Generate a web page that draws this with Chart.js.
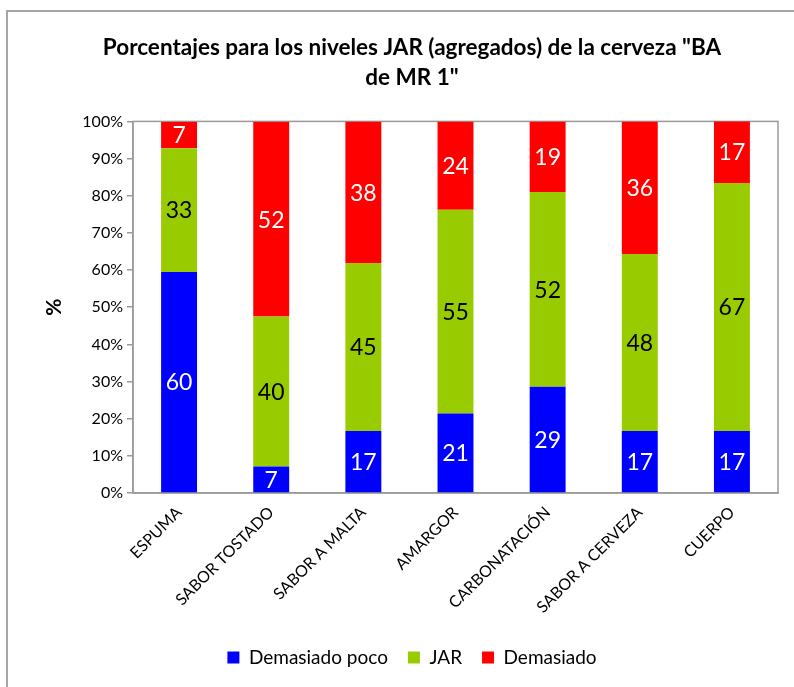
<!DOCTYPE html>
<html>
<head>
<meta charset="utf-8">
<script src="https://cdn.jsdelivr.net/npm/chart.js@4.4.1/dist/chart.umd.min.js"></script>
<style>
  html, body { margin: 0; padding: 0; background: #fff; }
  #wrap { position: relative; width: 794px; height: 687px; overflow: hidden; }
  #frame { position: absolute; left: 6px; top: 10px; width: 900px; height: 900px;
           border-left: 2px solid #a6a6a6; border-top: 2px solid #a6a6a6; }
  canvas { position: absolute; left: 0; top: 0; }
</style>
</head>
<body>
<div id="wrap">
  <div id="frame"></div>
  <canvas id="chart" width="794" height="687"></canvas>
</div>
<script>
// Porcentajes (labels show rounded values)
const categories = ['ESPUMA', 'SABOR TOSTADO', 'SABOR A MALTA', 'AMARGOR', 'CARBONATACIÓN', 'SABOR A CERVEZA', 'CUERPO'];
const pocoValues = [59.5, 7.1, 16.7, 21.4, 28.6, 16.7, 16.7];
const jarValues  = [33.3, 40.4, 45.2, 54.8, 52.4, 47.6, 66.7];
const muchoValues = [7.1, 52.4, 38.1, 23.8, 19.0, 35.7, 16.7];
const yTicks = [0, 10, 20, 30, 40, 50, 60, 70, 80, 90, 100];

const FONT = 'Lato, "Open Sans", sans-serif';
const AXIS_GRAY = '#9a9a9a';

// Value labels drawn inside each segment
const segmentLabels = {
  id: 'segmentLabels',
  afterDatasetsDraw(chart) {
    const ctx = chart.ctx;
    ctx.save();
    ctx.font = `23px ${FONT}`;
    ctx.textAlign = 'center';
    ctx.textBaseline = 'middle';
    chart.data.datasets.forEach((ds, i) => {
      const meta = chart.getDatasetMeta(i);
      meta.data.forEach((bar, j) => {
        const v = ds.data[j];
        if (!v) return;
        const yMid = (bar.y + bar.base) / 2;
        ctx.fillStyle = ds.labelColor;
        ctx.fillText(String(Math.round(v)), bar.x, yMid + 1);
      });
    });
    ctx.restore();
  },
};

// Plot area frame
const plotFrame = {
  id: 'plotFrame',
  beforeDatasetsDraw(chart) {
    const { ctx, chartArea: a } = chart;
    ctx.save();
    ctx.strokeStyle = AXIS_GRAY;
    ctx.lineWidth = 1.5;
    ctx.strokeRect(a.left, a.top, a.right - a.left, a.bottom - a.top);
    ctx.restore();
  },
};

new Chart(document.getElementById('chart'), {
  type: 'bar',
  data: {
    labels: categories,
    datasets: [
      { label: 'Demasiado poco', data: pocoValues, backgroundColor: '#0000FF', labelColor: '#ffffff' },
      { label: 'JAR', data: jarValues, backgroundColor: '#99CC00', labelColor: '#000000' },
      { label: 'Demasiado', data: muchoValues, backgroundColor: '#FF0000', labelColor: '#ffffff' },
    ],
  },
  options: {
    responsive: false,
    animation: false,
    devicePixelRatio: 1,
    datasets: { bar: { barPercentage: 0.39, categoryPercentage: 1 } },
    layout: { padding: { left: 46, right: 16, top: 0, bottom: 10 } },
    plugins: {
      title: {
        display: true,
        text: ['Porcentajes para los niveles JAR (agregados) de la cerveza "BA', 'de MR 1"'],
        color: '#000',
        font: { family: FONT, size: 22.5, weight: 'bold', lineHeight: 1.32 },
        padding: { top: 33, bottom: 29 },
      },
      legend: {
        position: 'bottom',
        labels: {
          color: '#000',
          font: { family: FONT, size: 19 },
          boxWidth: 12,
          boxHeight: 12,
          padding: 20,
        },
      },
      tooltip: { enabled: false },
    },
    scales: {
      x: {
        stacked: true,
        grid: { display: false },
        border: { display: true, color: AXIS_GRAY, width: 1.5 },
        ticks: {
          color: '#000',
          font: { family: FONT, size: 16 },
          minRotation: 45,
          maxRotation: 45,
          padding: 2,
        },
        afterFit: s => { s.height = 135; },
      },
      y: {
        stacked: true,
        min: 0,
        max: 100,
        afterBuildTicks: s => { s.ticks = yTicks.map(v => ({ value: v })); },
        grid: { drawOnChartArea: false, drawTicks: true, tickLength: 6, color: AXIS_GRAY, lineWidth: 1.5 },
        border: { display: true, color: AXIS_GRAY, width: 1.5 },
        ticks: {
          color: '#000',
          font: { family: FONT, size: 16 },
          padding: 4,
          callback: v => v + '%',
        },
        title: {
          display: true,
          text: '%',
          color: '#000',
          font: { family: FONT, size: 21, weight: 'bold' },
          padding: { top: -4, bottom: 0 },
        },
        afterFit: s => { s.width = 87; },
      },
    },
  },
  plugins: [plotFrame, segmentLabels],
});
</script>
</body>
</html>
